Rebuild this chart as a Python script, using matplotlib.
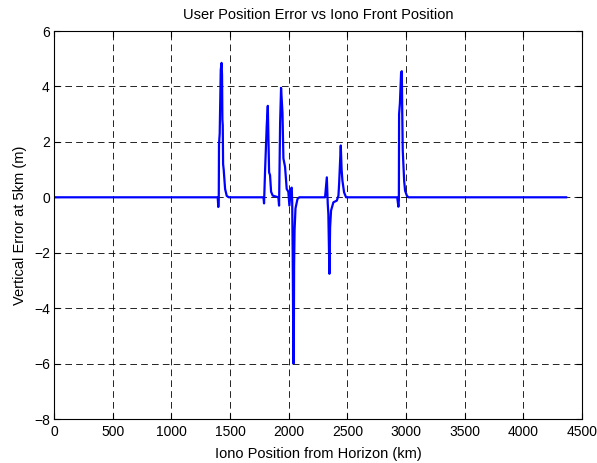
import numpy as np
import matplotlib
matplotlib.use("Agg")
import matplotlib.pyplot as plt

plt.rcParams['font.family'] = ['Liberation Sans', 'DejaVu Sans']

# iono front position (km) and vertical error (m)
pos_km = [0, 1395, 1400, 1404, 1406, 1412, 1421, 1428, 1432, 1435, 1438, 1441, 1446, 1458, 1472, 1490,
          1785, 1790, 1799, 1813, 1822, 1827, 1833, 1841, 1850, 1864, 1912,
          1918, 1927, 1935, 1947, 1955, 1969, 1983, 1997, 2006, 2018, 2026,
          2030, 2034, 2038, 2041, 2044, 2046, 2050, 2058, 2075, 2090,
          2310, 2325, 2333, 2338, 2347, 2353, 2361, 2381, 2410, 2424,
          2430, 2437, 2444, 2451, 2458, 2472, 2489,
          2925, 2935, 2939, 2941, 2948, 2958, 2964, 2968, 2972, 2984, 2992, 3007, 3020, 4365]
vert_err = [0, 0, -0.35, -0.1, 1.9, 2.3, 4.6, 4.85, 4.4, 2.8, 2.6, 1.2, 1.0, 0.3, 0.05, 0,
            0, -0.22, 1.0, 2.6, 3.3, 2.2, 0.9, 0.8, 0.2, 0.06, 0,
            -0.3, 2.7, 3.95, 3.05, 1.4, 1.1, 0.3, 0.2, -0.3, 0.3, 0.35,
            -0.2, -2.0, -4.5, -6.0, -5.0, -2.5, -1.2, -0.4, -0.06, 0,
            0, 0.72, -0.24, -0.6, -2.76, -1.08, -0.48, -0.18, -0.12, 0.06,
            0.5, 1.2, 1.87, 1.0, 0.6, 0.18, 0,
            0, -0.34, -0.1, 3.0, 3.4, 4.5, 4.55, 3.0, 1.7, 0.6, 0.24, 0.06, 0, 0]

xticks = np.arange(0, 4501, 500)
yticks = np.arange(-8, 7, 2)

fig = plt.figure(figsize=(5.97, 4.63), dpi=100)
ax = fig.add_axes([0.0905, 0.095, 0.8844, 0.838])

ax.plot(pos_km, vert_err, color='b', linewidth=1.6)

ax.set_xlim(0, 4500)
ax.set_ylim(-8, 6)
ax.set_xticks(xticks)
ax.set_yticks(yticks)
ax.grid(True, color='black', linestyle=(0, (8, 5)), linewidth=0.6)
ax.tick_params(direction='in', top=True, right=True, length=4, width=0.8,
               labelsize=10, pad=3)
ax.tick_params(axis='x', pad=4)
for s in ax.spines.values():
    s.set_linewidth(0.8)

ax.set_title('User Position Error vs Iono Front Position', fontsize=10.5, pad=9)
ax.set_xlabel('Iono Position from Horizon (km)', fontsize=10.5, labelpad=6)
ax.set_ylabel('Vertical Error at 5km (m)', fontsize=10.5, labelpad=5)

fig.savefig('out.png', dpi=100)
